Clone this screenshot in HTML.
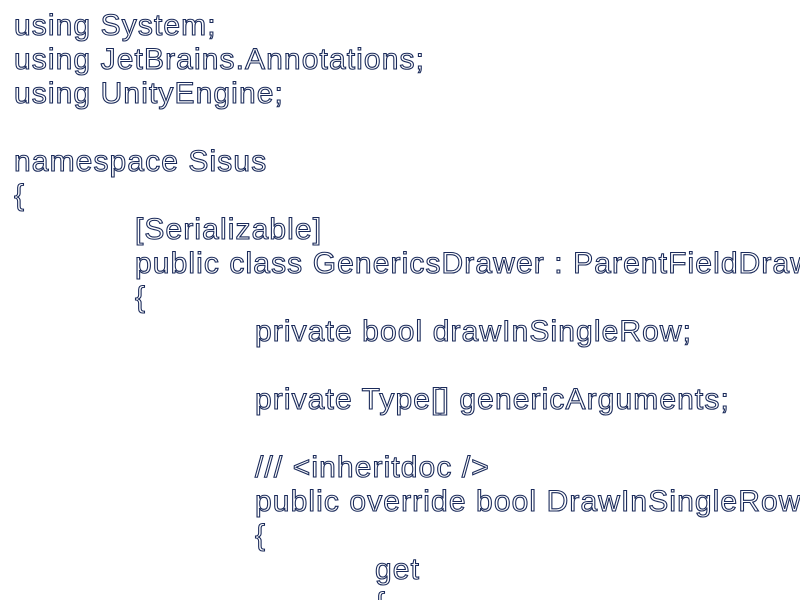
<!DOCTYPE html>
<html><head><style>
html,body{margin:0;padding:0;background:#fff;width:800px;height:600px;overflow:hidden}
.c{position:absolute;left:14px;top:9px;width:786px;height:591px;overflow:hidden;font-family:"Liberation Sans",sans-serif;font-size:30px;line-height:34px;letter-spacing:1.1px;color:#fff;-webkit-text-stroke:1.1px #1a2a5a}
.l{height:34px;white-space:pre}
.i1{padding-left:121px}.i2{padding-left:241px}.i3{padding-left:361px}
</style></head><body>
<div class="c"><div class="l">using System;</div><div class="l">using JetBrains.Annotations;</div><div class="l">using UnityEngine;</div><div class="l"></div><div class="l">namespace Sisus</div><div class="l">{</div><div class="l i1">[Serializable]</div><div class="l i1">public class GenericsDrawer : ParentFieldDrawer</div><div class="l i1">{</div><div class="l i2">private bool drawInSingleRow;</div><div class="l"></div><div class="l i2">private Type[] genericArguments;</div><div class="l"></div><div class="l i2">/// &lt;inheritdoc /&gt;</div><div class="l i2">public override bool DrawInSingleRow</div><div class="l i2">{</div><div class="l i3">get</div><div class="l i3">{</div></div>
</body></html>
